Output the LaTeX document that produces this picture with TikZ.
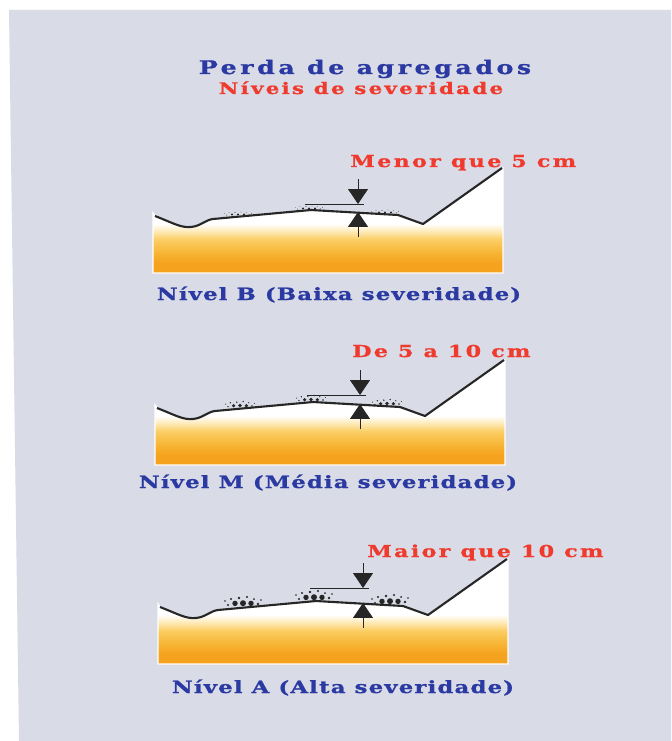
\documentclass[tikz,border=0pt]{standalone}
\usepackage{fontspec}
\newfontfamily\titulofont[LetterSpace=19, FakeStretch=1.35, FakeBold=1]{DejaVu Serif}
\newfontfamily\subtitulofont[LetterSpace=14, FakeStretch=1.35, FakeBold=1]{DejaVu Serif}
\newfontfamily\medidafont[LetterSpace=14, FakeStretch=1.35, FakeBold=1]{DejaVu Serif}
\newfontfamily\rotulofont[LetterSpace=7, FakeStretch=1.35, FakeBold=1]{DejaVu Serif}
\usetikzlibrary{arrows.meta, positioning, calc}
\definecolor{fundo}{RGB}{217,219,230}
\definecolor{azulnivel}{RGB}{42,58,162}
\definecolor{vermelho}{RGB}{240,58,45}
\definecolor{laranja}{RGB}{245,163,30}
\definecolor{laranjaclaro}{RGB}{248,182,55}
\definecolor{amarelo}{RGB}{251,206,100}
\definecolor{creme}{RGB}{255,238,196}
% faixa de solo: laranja em baixo, branco junto ao pavimento
\pgfdeclareverticalshading{solo}{100bp}{color(0bp)=(laranja); color(30bp)=(laranja);
  color(35bp)=(laranjaclaro); color(41bp)=(amarelo); color(45.5bp)=(creme);
  color(48.5bp)=(white); color(100bp)=(white)}

\begin{document}
\begin{tikzpicture}[x=0.025cm, y=-0.025cm,
    estrada/.style={line width=1.5pt, line join=round, draw=black!85},
    cota/.style={line width=0.7pt, draw=black!85, -{Triangle[length=10.5pt, width=14pt]}},
    refer/.style={line width=0.6pt, draw=black!85}]
    \useasboundingbox (0,0) rectangle (671,741);
    \fill[white] (0,0) rectangle (671,741);
    \fill[fundo] (9,10) -- (671,10) -- (671,741) -- (19,741) -- cycle;

    \node[azulnivel, anchor=base, inner sep=0pt, font=\titulofont\bfseries\fontsize{13.3}{15}\selectfont]
        (titulo) at (365,74) {Perda de agregados};
    \node[vermelho, anchor=base, inner sep=0pt, font=\subtitulofont\bfseries\fontsize{11.3}{13}\selectfont]
        (subtitulo) at (361,94) {Níveis de severidade};

    \foreach \n/\ox/\oy/\sx/\sy/\gap/\mpos/\lpos/\medida/\nivel in {
        B/153/273/0.75/0.4/8/{197,-106}/{186,27}/{Menor que 5 cm}/{Nível B (Baixa severidade)},
        M/155/465/0.8/0.65/9/{197,-108}/{173,23}/{De 5 a 10 cm}/{Nível M (Média severidade)},
        A/158/664/1/1/15/{209,-107}/{185,29}/{Maior que 10 cm}/{Nível A (Alta severidade)}}
    {
        \begin{scope}[shift={(\ox,\oy)}]
            % base e talude
            \shadedraw[shading=solo, draw=white, line width=1pt] (0,0) -- (0,-60) -- (2,-57)
                .. controls (20,-50) and (28,-45) .. (38,-46)
                .. controls (48,-47) and (52,-53) .. (60,-54)
                -- (158,-63) -- (245,-58) -- (270,-49) -- (349,-105) -- (350,-105) -- (350,0) -- cycle;
            \draw[estrada] (2,-57)
                .. controls (20,-50) and (28,-45) .. (38,-46)
                .. controls (48,-47) and (52,-53) .. (60,-54)
                -- (158,-63) -- (245,-58) -- (270,-49) -- (349,-105);
            % agregados soltos
            \foreach \cx/\cy in {85/-57, 156/-63, 232/-59}
                \foreach \dx/\dy/\r in {-8/3.6/2.7, 0/3.8/3, 8/3.6/2.7, -15/2/1.2, -12/8/1.1,
                                        -4/9/1.3, 4/10/1.2, 11/8/1, 15/3/1.3, -18/6/0.8, 18/7/0.8}
                    \fill[black!85] (\cx+\sx*\dx, \cy-\sy*\dy) circle (\sy*\r);
            % cotas
            \coordinate (base\n) at (205,-61);
            \coordinate (topo\n) at (205,-61-\gap);
            \coordinate (acima\n) at (205,-86-\gap);
            \coordinate (abaixo\n) at (205,-36);
            \draw[refer] (topo\n) +(-53,0) -- +(6,0);
            \draw[refer] (base\n) +(-15,0) -- +(5,0);
            \draw[cota] (acima\n) -- (topo\n);
            \draw[cota] (abaixo\n) -- (base\n);
            \node[vermelho, anchor=base west, inner sep=0pt,
                font=\medidafont\bfseries\fontsize{11.7}{14}\selectfont] (medida\n) at (\mpos) {\medida};
            \node[azulnivel, anchor=base, inner sep=0pt,
                font=\rotulofont\bfseries\fontsize{12}{14}\selectfont] (nivel\n) at (\lpos) {\nivel};
        \end{scope}
    }
\end{tikzpicture}
\end{document}
